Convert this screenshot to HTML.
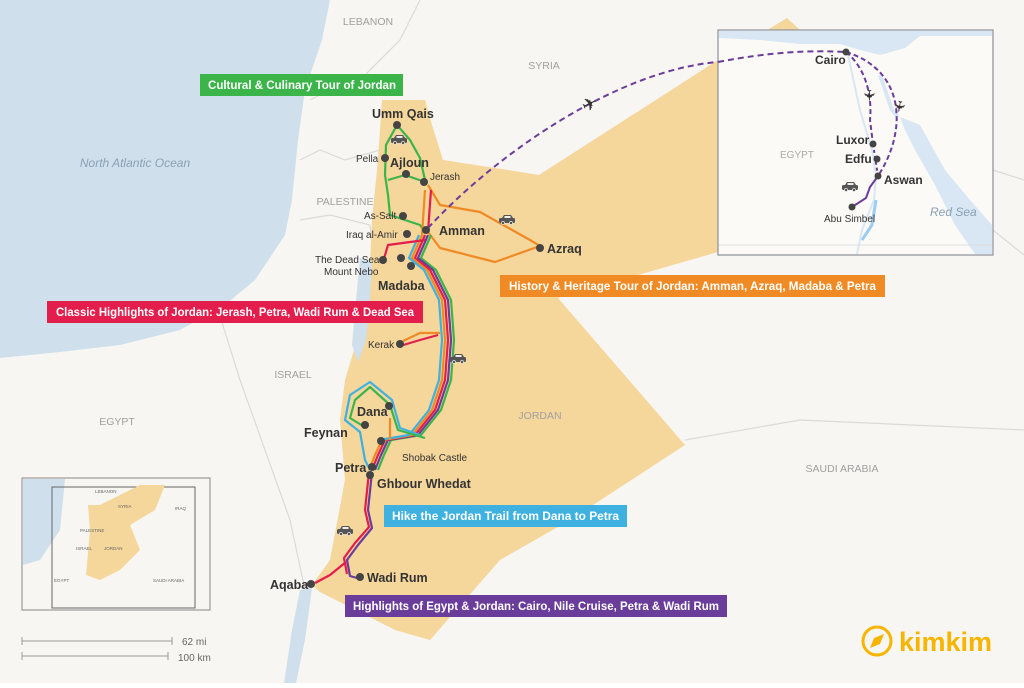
<!DOCTYPE html>
<html><head><meta charset="utf-8"><style>
html,body{margin:0;padding:0}
body{width:1024px;height:683px;overflow:hidden;font-family:"Liberation Sans",sans-serif}
svg text{font-family:"Liberation Sans",sans-serif}
</style></head><body>
<svg width="1024" height="683" viewBox="0 0 1024 683" xmlns="http://www.w3.org/2000/svg">
<defs>
<g id="car"><rect x="0" y="3" width="16" height="5" rx="1.5" fill="#555"/><path d="M3,3 L5,0 L12,0 L14,3 Z" fill="#555"/><rect x="5.5" y="1" width="6" height="2" fill="#eee"/><circle cx="4" cy="8" r="1.6" fill="#555" stroke="#fff" stroke-width="0.6"/><circle cx="12" cy="8" r="1.6" fill="#555" stroke="#fff" stroke-width="0.6"/></g>
</defs>
<rect width="1024" height="683" fill="#f8f6f2"/>
<!-- sea -->
<path d="M0,0 L330,0 L322,40 L305,90 L298,140 L292,200 L285,235 L255,280 L225,305 L180,330 L120,345 L60,352 L0,358 Z" fill="#cfe0ec"/>
<!-- country borders -->
<g fill="none" stroke="#dcdad6" stroke-width="1.2">
<path d="M310,100 L330,90 L360,80 L400,40 L420,0"/>
<path d="M300,160 L320,150 L345,160 L380,150"/>
<path d="M300,220 L330,215 L370,225 L375,265"/>
<path d="M215,300 L240,380 L290,520 L305,590"/>
<path d="M685,440 L800,420 L1024,430"/>
<path d="M993,170 L1024,180"/>
<path d="M993,230 L1024,255"/>
</g>
<!-- Jordan -->
<path d="M382,100 L425,100 L432,125 L443,160 L508,170 L539,175 L718,60 L787,18 L800,30 L760,230 L718,252 L558,298 L685,445 L570,520 L500,560 L430,640 L395,630 L320,592 L312,585 L330,560 L345,480 L340,420 L345,380 L360,330 L370,265 L372,220 L378,160 Z" fill="#f5d69b"/>
<!-- Dead sea -->
<path d="M360,258 L372,262 L370,300 L366,340 L358,362 L352,345 L356,300 Z" fill="#cfe0ec"/>
<!-- gulf -->
<path d="M300,590 L312,588 L305,640 L296,683 L284,683 L292,630 Z" fill="#cfe0ec"/>
<!-- water labels -->
<text x="135" y="167" font-size="12" fill="#8aa0b3" font-style="italic" text-anchor="middle">North Atlantic Ocean</text>
<g font-size="10.5" fill="#a0a0a0" text-anchor="middle">
<text x="368" y="25">LEBANON</text><text x="544" y="69">SYRIA</text>
<text x="345" y="205">PALESTINE</text><text x="293" y="378">ISRAEL</text>
<text x="117" y="425">EGYPT</text><text x="540" y="419">JORDAN</text>
<text x="842" y="472">SAUDI ARABIA</text>
</g>
<!-- routes -->
<g fill="none" stroke-width="2.2" stroke-linejoin="round">
<path d="M397,125 L386,145 L385,175 L388,195 L390,215 L420,225 L425,232" stroke="#3bb54a"/>
<path d="M397,125 L410,140 L420,158 L425,180" stroke="#3bb54a"/>
<path d="M388,180 L405,175 L425,182" stroke="#3bb54a"/>
<path d="M428,185 L440,205 L480,212 L530,240 L540,246 L495,262 L440,248 L428,232" stroke="#f08a24"/>
<g transform="translate(6,0)"><path d="M425,235 L415,258 L430,270 L445,300 L448,340 L445,380 L435,410 L415,435 L385,440 L378,455 L372,470" stroke="#3bb54a"/></g>
<g transform="translate(3,0)"><path d="M425,235 L415,258 L430,270 L445,300 L448,340 L445,380 L435,410 L415,435 L385,440 L378,455 L372,470" stroke="#6a3d9a"/></g>
<path d="M425,235 L415,258 L430,270 L445,300 L448,340 L445,380 L435,410 L415,435 L385,440 L378,455 L372,470" stroke="#e31d4c"/>
<g transform="translate(-3,0)"><path d="M428,190 L425,235 L415,258 L430,270 L445,300 L448,340 L445,380 L435,410 L415,435 L385,440 L378,455 L372,470" stroke="#f08a24"/></g>
<g transform="translate(-6,0)"><path d="M425,235 L415,258 L430,270 L445,300 L448,340 L445,380 L435,410 L415,435 L385,440" stroke="#3eb1e0"/></g>
<path d="M431,190 L428,232" stroke="#e31d4c"/>
<path d="M383,262 L388,245 L425,240" stroke="#e31d4c"/>
<path d="M400,346 L420,340 L438,335" stroke="#e31d4c"/>
<path d="M403,341 L420,333 L440,333" stroke="#f08a24"/>
<path d="M420,435 L400,428 L392,400 L370,382 L350,395 L345,420 L360,432 L365,460 L370,470" stroke="#3eb1e0"/>
<path d="M425,438 L398,430 L390,405 L370,387 L355,400 L350,418 L363,426" stroke="#3bb54a"/>
<path d="M390,418 L390,440" stroke="#f08a24"/>
<path d="M372,472 L368,510 L372,528 L358,545 L347,560 L350,576 L357,578" stroke="#6a3d9a"/>
<path d="M369,472 L365,510 L369,527 L355,543 L344,558 L347,574" stroke="#e31d4c"/>
<path d="M346,562 L330,575 L315,583" stroke="#e31d4c"/>
</g>
<!-- flight dashed -->
<path d="M428,228 C500,150 620,70 718,62" fill="none" stroke="#6a3d9a" stroke-width="2" stroke-dasharray="6,4"/>
<text x="582" y="110" font-size="18" fill="#333" transform="rotate(-25 590 104)">✈</text>
<!-- cars -->
<use href="#car" x="391" y="135"/><use href="#car" x="499" y="215"/><use href="#car" x="450" y="354"/><use href="#car" x="337" y="526"/>
<!-- points -->
<g fill="#444">
<circle cx="397" cy="125" r="4"/><circle cx="385" cy="158" r="4"/><circle cx="406" cy="174" r="4"/><circle cx="424" cy="182" r="4"/>
<circle cx="403" cy="216" r="4"/><circle cx="407" cy="234" r="4"/><circle cx="426" cy="230" r="4"/><circle cx="540" cy="248" r="4"/>
<circle cx="383" cy="260" r="4"/><circle cx="401" cy="258" r="4"/><circle cx="411" cy="266" r="4"/><circle cx="400" cy="344" r="4"/>
<circle cx="389" cy="406" r="4"/><circle cx="365" cy="425" r="4"/><circle cx="381" cy="441" r="4"/><circle cx="372" cy="467" r="4"/>
<circle cx="370" cy="475" r="4"/><circle cx="360" cy="577" r="4"/><circle cx="311" cy="584" r="4"/>
</g>
<g font-size="12.5" font-weight="bold" fill="#333">
<text x="372" y="118">Umm Qais</text><text x="390" y="167">Ajloun</text><text x="439" y="235">Amman</text>
<text x="547" y="253">Azraq</text><text x="378" y="290">Madaba</text><text x="357" y="416">Dana</text>
<text x="304" y="437">Feynan</text><text x="335" y="472">Petra</text><text x="377" y="488">Ghbour Whedat</text>
<text x="367" y="582">Wadi Rum</text><text x="270" y="589">Aqaba</text>
</g>
<g font-size="10" fill="#333">
<text x="356" y="162">Pella</text><text x="430" y="180">Jerash</text><text x="364" y="219">As-Salt</text>
<text x="346" y="238">Iraq al-Amir</text><text x="315" y="263">The Dead Sea</text><text x="324" y="275">Mount Nebo</text>
<text x="368" y="348">Kerak</text><text x="402" y="461">Shobak Castle</text>
</g>
<!-- banners -->
<g font-size="12" font-weight="bold" fill="#fff">
<rect x="200" y="74" width="203" height="22" fill="#3bb54a"/><text x="208" y="89" textLength="188" lengthAdjust="spacingAndGlyphs">Cultural &amp; Culinary Tour of Jordan</text>
<rect x="47" y="301" width="376" height="22" fill="#e31d4c"/><text x="56" y="316" textLength="358" lengthAdjust="spacingAndGlyphs">Classic Highlights of Jordan: Jerash, Petra, Wadi Rum &amp; Dead Sea</text>
<rect x="500" y="275" width="385" height="22" fill="#f08a24"/><text x="509" y="290" textLength="367" lengthAdjust="spacingAndGlyphs">History &amp; Heritage Tour of Jordan: Amman, Azraq, Madaba &amp; Petra</text>
<rect x="384" y="505" width="243" height="22" fill="#3eb1e0"/><text x="392" y="520" textLength="227" lengthAdjust="spacingAndGlyphs">Hike the Jordan Trail from Dana to Petra</text>
<rect x="345" y="595" width="382" height="22" fill="#6a3d9a"/><text x="353" y="610" textLength="366" lengthAdjust="spacingAndGlyphs">Highlights of Egypt &amp; Jordan: Cairo, Nile Cruise, Petra &amp; Wadi Rum</text>
</g>
<!-- Egypt inset -->
<g>
<rect x="718" y="30" width="275" height="225" fill="#fbfaf7" stroke="#8a8f99" stroke-width="1.2"/>
<path d="M719,31 L992,31 L992,36 L920,36 L905,48 L880,55 L860,50 L840,44 L800,44 L760,40 L719,38 Z" fill="#d8e7f3"/>
<path d="M900,117 L920,125 L945,170 L970,200 L992,225 L992,254 L975,254 L955,225 L935,185 L915,150 L905,130 Z" fill="#d8e7f3"/>
<path d="M880,75 L892,110 L898,117" fill="none" stroke="#d8e7f3" stroke-width="4"/>
<path d="M848,55 L860,110 L872,150 L876,175 L874,200 L862,230 L857,254" fill="none" stroke="#d8e7f3" stroke-width="2"/>
<path d="M876,200 L872,225 L862,240" fill="none" stroke="#9cccf0" stroke-width="3"/>
<path d="M719,245 L992,245" stroke="#ddd" stroke-width="1"/>
<path d="M846,52 C868,70 872,100 870,120 L873,144" fill="none" stroke="#6a3d9a" stroke-width="2" stroke-dasharray="5,3"/>
<path d="M873,144 L878,176" fill="none" stroke="#6a3d9a" stroke-width="2" stroke-dasharray="3,3"/>
<path d="M846,52 C905,70 908,130 878,176" fill="none" stroke="#6a3d9a" stroke-width="2" stroke-dasharray="5,3"/>
<path d="M878,176 L870,187 L866,198 L852,207" fill="none" stroke="#6a3d9a" stroke-width="2"/>
<path d="M718,62 C770,52 810,50 846,52" fill="none" stroke="#6a3d9a" stroke-width="2" stroke-dasharray="6,4"/>
<g fill="#444"><circle cx="846" cy="52" r="3.5"/><circle cx="873" cy="144" r="3.5"/><circle cx="877" cy="159" r="3.5"/><circle cx="878" cy="176" r="3.5"/><circle cx="852" cy="207" r="3.5"/></g>
<g font-size="12" font-weight="bold" fill="#333"><text x="815" y="64">Cairo</text><text x="836" y="144">Luxor</text><text x="845" y="163">Edfu</text><text x="884" y="184">Aswan</text></g>
<text x="824" y="222" font-size="10" fill="#333">Abu Simbel</text>
<text x="780" y="158" font-size="10" fill="#aaa">EGYPT</text>
<text x="930" y="216" font-size="12" fill="#8aa0b3" font-style="italic">Red Sea</text>
<text x="862" y="101" font-size="15" fill="#333" transform="rotate(90 869 96)">✈</text>
<text x="892" y="112" font-size="15" fill="#333" transform="rotate(100 899 107)">✈</text>
<use href="#car" x="842" y="182"/>
</g>
<!-- locator inset -->
<rect x="22" y="478" width="188" height="132" fill="#f8f6f2" stroke="#888"/>
<path d="M23,479 L65,479 L60,530 L40,560 L23,565 Z" fill="#cfe0ec"/>
<rect x="52" y="487" width="143" height="121" fill="none" stroke="#666" stroke-width="1"/>
<path d="M88,505 L100,505 L140,485 L165,485 L155,510 L130,525 L140,550 L120,570 L100,580 L86,575 L90,530 Z" fill="#f5d69b"/>
<g font-size="4.5" fill="#666"><text x="95" y="493">LEBANON</text><text x="118" y="508">SYRIA</text><text x="175" y="510">IRAQ</text><text x="80" y="532">PALESTINE</text><text x="76" y="550">ISRAEL</text><text x="104" y="550">JORDAN</text><text x="54" y="582">EGYPT</text><text x="153" y="582">SAUDI ARABIA</text></g>
<!-- scale -->
<g stroke="#999" stroke-width="1" fill="none"><path d="M22,641 L172,641 M22,637 L22,645 M172,637 L172,645"/><path d="M22,656 L168,656 M22,652 L22,660 M168,652 L168,660"/></g>
<text x="182" y="645" font-size="10" fill="#666">62 mi</text><text x="178" y="661" font-size="10" fill="#666">100 km</text>
<!-- logo -->
<circle cx="877" cy="641" r="14" fill="none" stroke="#f7b500" stroke-width="3"/>
<path d="M870,648 L874,638 L884,634 L880,644 Z" fill="#f7b500"/>
<text x="899" y="651" font-size="27" fill="#f7b500" font-weight="bold">kimkim</text>
</svg>
</body></html>
